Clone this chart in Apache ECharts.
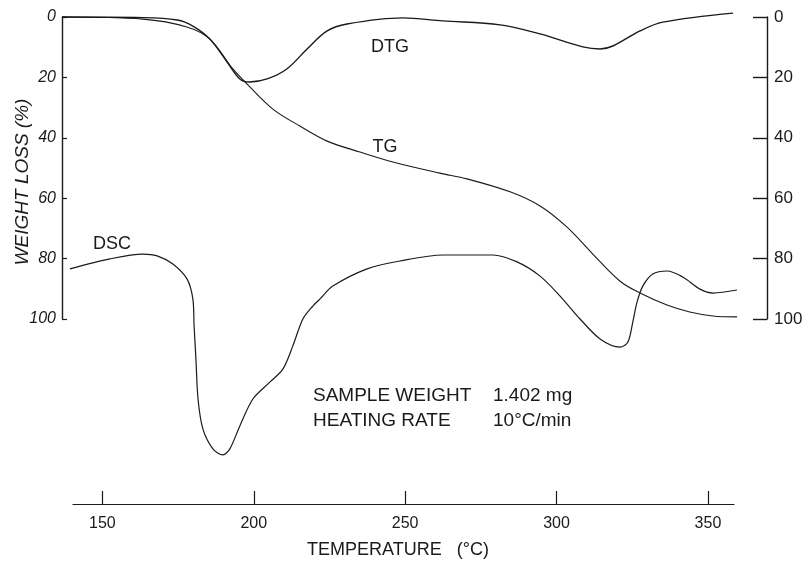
<!DOCTYPE html>
<html>
<head>
<meta charset="utf-8">
<script src="https://cdn.jsdelivr.net/npm/echarts@6/dist/echarts.min.js"></script>
<style>html,body{margin:0;padding:0;background:#fff;}#c{width:809px;height:571px;}</style>
</head>
<body>
<div id="c"></div>
<script>
// ---- data ----
const temperatureTicks = [150, 200, 250, 300, 350];
const weightTicks = [0, 20, 40, 60, 80, 100];
// DTG curve: [temperature °C, value on weight-loss scale]
const dtgData = [[136.8,0],[163.5,0.2],[174.8,1.0],[180,3],[185.6,7.3],[191.3,14.9],[195.5,20.5],[198.8,21.5],[204.5,20.5],[211,17.2],[217.7,10.6],[224.3,4.6],[230.9,2.3],[249.3,0.3],[262.5,1.3],[281.4,2.6],[294.6,5.6],[308.7,9.9],[314.4,10.6],[318.6,9.6],[327.6,4.6],[335.1,1.7],[358.3,-1.3]];
// TG curve: [temperature °C, weight loss %]
const tgData = [[136.8,0],[163.5,0.7],[178,3.3],[185.6,7.3],[193.2,17.2],[197.9,22.2],[206.4,30.5],[215.3,36.1],[224.3,41.1],[235.1,44.7],[246,48],[261.5,51.7],[270.5,53.6],[284.7,57.9],[294.6,62.6],[303.5,69.6],[312,78.5],[321,87.5],[327.6,91.4],[336.5,95.4],[344,97.7],[351.6,99],[359.6,99.3]];
// DSC curve: [temperature °C, signal in arbitrary units, downward = endotherm]
const dscData = [[139.4,83.4],[152.6,80.1],[163.5,78.5],[168.2,79.1],[173.4,81.8],[178.1,86.8],[180.0,93.4],[180.4,102.3],[181.0,113.2],[181.7,126.5],[183.3,136.4],[186.6,143.0],[189.9,145.0],[192.2,143.0],[195.5,135.4],[199.8,126.5],[205.4,120.9],[209.7,116.6],[213.0,108.9],[216.3,100.0],[219.6,95.7],[221.9,93.4],[226.2,89.1],[237.5,83.4],[248.3,80.8],[262.5,78.8],[279.0,78.8],[287.0,81.1],[294.6,85.8],[301.2,92.4],[307.8,100.0],[314.4,106.6],[321.0,109.3],[323.6,107.6],[325.2,101.0],[326.6,94.4],[328.5,89.1],[331.8,85.1],[336.5,84.1],[341.7,86.1],[347.4,90.1],[351.7,91.4],[359.6,90.4]];

const INK = '#1a1a1a';
const FONT = '"Liberation Sans", Arial, sans-serif';

const chart = echarts.init(document.getElementById('c'), null, {renderer: 'canvas'});

const hiddenX = (gi) => ({gridIndex: gi, type: 'value', min: 136.8, max: 369.5, show: false});

const option = {
  backgroundColor: '#ffffff',
  animation: false,
  grid: [
    {left: 62, right: 42, top: 17, height: 302},
    {left: 62, right: 42, top: 17, height: 453},
    {left: 73, right: 75, top: 503, height: 1}
  ],
  xAxis: [
    hiddenX(0),
    hiddenX(1),
    {
      gridIndex: 2, type: 'value', min: 140.3, max: 358.6, position: 'bottom',
      axisLine: {show: true, lineStyle: {color: INK, width: 1.2}},
      axisTick: {show: true, inside: true, length: 13, lineStyle: {color: INK, width: 1.2}, customValues: temperatureTicks},
      axisLabel: {show: true, color: INK, fontFamily: FONT, fontSize: 16, margin: 12, customValues: temperatureTicks},
      splitLine: {show: false}
    }
  ],
  yAxis: [
    {
      gridIndex: 0, type: 'value', min: 0, max: 100, interval: 20, inverse: true, position: 'left',
      axisLine: {show: true, lineStyle: {color: INK, width: 1.4}},
      axisTick: {show: true, inside: true, length: 5, lineStyle: {color: INK, width: 1.2}, customValues: weightTicks},
      axisLabel: {color: INK, fontFamily: FONT, fontStyle: 'italic', fontSize: 16, margin: 6, customValues: weightTicks},
      splitLine: {show: false}
    },
    {
      gridIndex: 0, type: 'value', min: 0, max: 100, interval: 20, inverse: true, position: 'right',
      axisLine: {show: true, lineStyle: {color: INK, width: 1.4}},
      axisTick: {show: true, inside: true, length: 14, lineStyle: {color: INK, width: 1.4}, customValues: weightTicks},
      axisLabel: {color: INK, fontFamily: FONT, fontSize: 17, margin: 7, customValues: weightTicks},
      splitLine: {show: false}
    },
    {gridIndex: 1, type: 'value', min: 0, max: 150, inverse: true, show: false},
    {gridIndex: 2, type: 'value', min: 0, max: 1, show: false}
  ],
  series: [
    {name: 'DTG', type: 'line', xAxisIndex: 0, yAxisIndex: 0, data: dtgData, smooth: 0.35, showSymbol: false, clip: false,
     lineStyle: {color: INK, width: 1.4}},
    {name: 'TG', type: 'line', xAxisIndex: 0, yAxisIndex: 0, data: tgData, smooth: 0.35, showSymbol: false, clip: false,
     lineStyle: {color: INK, width: 1.1}},
    {name: 'DSC', type: 'line', xAxisIndex: 1, yAxisIndex: 2, data: dscData, smooth: 0.3, showSymbol: false, clip: false,
     lineStyle: {color: INK, width: 1.2}}
  ],
  graphic: [
    {type: 'text', x: 23, y: 182, rotation: Math.PI / 2,
     style: {text: 'WEIGHT LOSS (%)', fill: INK, font: 'italic 19px ' + FONT, align: 'center', verticalAlign: 'middle'}},
    {type: 'text', x: 390, y: 47, style: {text: 'DTG', fill: INK, font: '18px ' + FONT, align: 'center', verticalAlign: 'middle'}},
    {type: 'text', x: 385, y: 147, style: {text: 'TG', fill: INK, font: '18px ' + FONT, align: 'center', verticalAlign: 'middle'}},
    {type: 'text', x: 112, y: 244, style: {text: 'DSC', fill: INK, font: '18px ' + FONT, align: 'center', verticalAlign: 'middle'}},
    {type: 'text', x: 313, y: 396, style: {text: 'SAMPLE WEIGHT', fill: INK, font: '19px ' + FONT, align: 'left', verticalAlign: 'middle'}},
    {type: 'text', x: 493, y: 396, style: {text: '1.402 mg', fill: INK, font: '19px ' + FONT, align: 'left', verticalAlign: 'middle'}},
    {type: 'text', x: 313, y: 421, style: {text: 'HEATING RATE', fill: INK, font: '19px ' + FONT, align: 'left', verticalAlign: 'middle'}},
    {type: 'text', x: 493, y: 421, style: {text: '10°C/min', fill: INK, font: '19px ' + FONT, align: 'left', verticalAlign: 'middle'}},
    {type: 'text', x: 398, y: 550, style: {text: 'TEMPERATURE   (°C)', fill: INK, font: '18px ' + FONT, align: 'center', verticalAlign: 'middle'}}
  ]
};
chart.setOption(option);
</script>
</body>
</html>
